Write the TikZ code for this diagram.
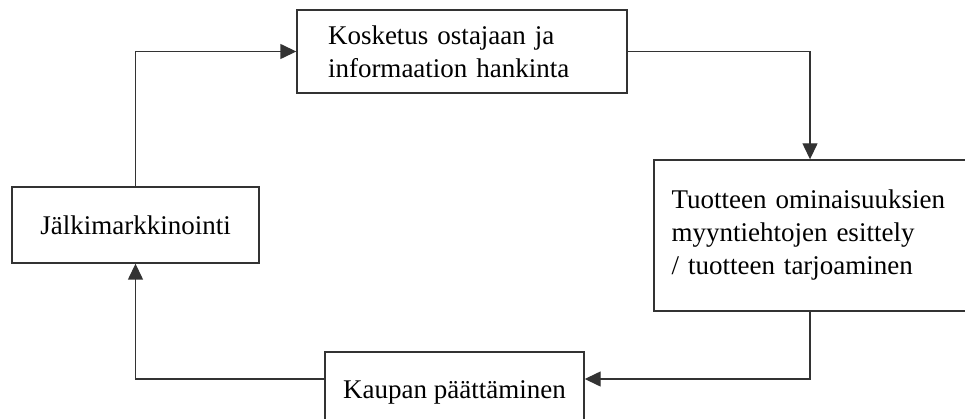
\documentclass[tikz,border=0pt]{standalone}
\usepackage{fontspec}
\setmainfont{Liberation Serif}
\usetikzlibrary{arrows.meta}
\begin{document}
\begin{tikzpicture}[x=1pt,y=-1pt,
  box/.style={draw=black!80, line width=1.4pt, rectangle, font=\fontsize{27}{33}\selectfont},
  link/.style={draw=black!80, line width=1.4pt, -{Triangle[length=16pt,width=15pt]}}]
\useasboundingbox (0,0) rectangle (965,419);
\clip (0,0) rectangle (965,419);
\node[box, minimum height=83pt, text width=268pt, inner xsep=31pt, inner ysep=0pt, align=left] (b1) at (462,51.5) {Kosketus ostajaan ja\\informaation hankinta};
\node[box, minimum height=151pt, text width=277pt, inner xsep=17.5pt, inner ysep=0pt, align=left] (b2) at (810,235.5) {Tuotteen ominaisuuksien\\myyntiehtojen esittely\\/ tuotteen tarjoaminen};
\node[box, minimum width=259pt, minimum height=80pt] (b3) at (454.5,392) {Kaupan päättäminen};
\node[box, minimum width=247pt, minimum height=76pt] (b4) at (135.5,225) {Jälkimarkkinointi};
\coordinate (yA) at (0,379);
\draw[link] (b4.north) |- (b1.west);
\draw[link] (b1.east) -| (b2.north);
\draw[link] (b2.south) |- (b3.east |- yA);
\draw[link] (b3.west |- yA) -| (b4.south);
\end{tikzpicture}
\end{document}
